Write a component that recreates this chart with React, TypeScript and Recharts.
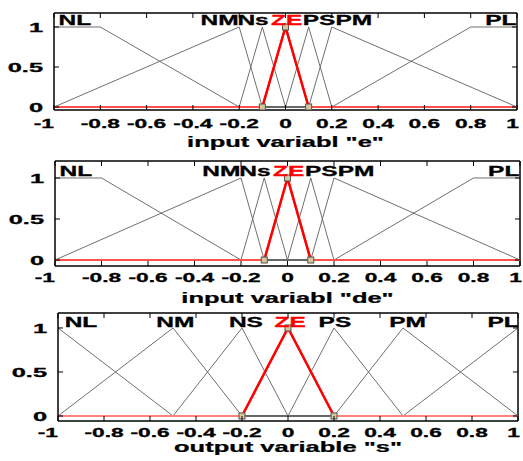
import React from "react";
import { ComposedChart, Line, Scatter, XAxis, YAxis, ReferenceLine } from "recharts";

const xTicks = [-1, -0.8, -0.6, -0.4, -0.2, 0, 0.2, 0.4, 0.6, 0.8, 1];
const yTicks = [0, 0.5, 1];

// "e" and "de" use the same partition
const inNames = ["NL", "NM", "Ns", "ZE", "PS", "PM", "PL"];
const inBreakX = [
  [-1, -0.8, -0.2, 1],
  [-1, -0.2, -0.1, 1],
  [-1, -0.2, -0.1, 0, 1],
  [-1, -0.1, 0, 0.1, 1],
  [-1, 0, 0.1, 0.2, 1],
  [-1, 0.1, 0.2, 1],
  [-1, 0.2, 0.8, 1],
];
const inBreakY = [
  [1, 1, 0, 0],
  [0, 1, 0, 0],
  [0, 0, 1, 0, 0],
  [0, 0, 1, 0, 0],
  [0, 0, 1, 0, 0],
  [0, 0, 1, 0],
  [0, 0, 1, 1],
];
const inLabelX = [-0.91, -0.285, -0.14, 0.005, 0.145, 0.295, 0.93];

const outNames = ["NL", "NM", "NS", "ZE", "PS", "PM", "PL"];
const outBreakX = [
  [-1, -0.5, 1],
  [-1, -0.5, -0.2, 1],
  [-1, -0.5, -0.2, 0, 1],
  [-1, -0.2, 0, 0.2, 1],
  [-1, 0, 0.2, 0.5, 1],
  [-1, 0.2, 0.5, 1],
  [-1, 0.5, 1],
];
const outBreakY = [
  [1, 0, 0],
  [0, 1, 0, 0],
  [0, 0, 1, 0, 0],
  [0, 0, 1, 0, 0],
  [0, 0, 1, 0, 0],
  [0, 0, 1, 0],
  [0, 0, 1],
];
const outLabelX = [-0.9, -0.49, -0.183, 0.009, 0.204, 0.52, 0.935];

const SELECTED = "ZE";
const FONT = "'Liberation Sans', Arial, sans-serif";
const STRETCH = 1.75;

function XTick(props: any) {
  const { x, y, payload, plotH, labelDy } = props;
  const v = payload.value;
  // the end labels sit against the frame corners in the original
  const anchor = v === -1 || v === 1 ? "end" : "middle";
  const tx = v === 1 ? x + 2 : x;
  return (
    <g>
      <line x1={x} y1={y} x2={x} y2={y - 5} stroke="#000" />
      <line x1={x} y1={y - plotH} x2={x} y2={y - plotH + 5} stroke="#000" />
      <g transform={`translate(${tx},${y + labelDy}) scale(${STRETCH},1)`}>
        <text textAnchor={anchor} fontSize={13} fontWeight="bold" fontFamily={FONT} fill="#000" stroke="#000" strokeWidth={0.3}>
          {String(v)}
        </text>
      </g>
    </g>
  );
}

function YTick(props: any) {
  const { x, y, payload, plotW } = props;
  return (
    <g>
      <line x1={x} y1={y} x2={x + 5} y2={y} stroke="#000" />
      <line x1={x + plotW} y1={y} x2={x + plotW - 5} y2={y} stroke="#000" />
      <g transform={`translate(${x - 11},${y}) scale(1.95,1)`}>
        <text textAnchor="end" dy="0.36em" fontSize={13} fontWeight="bold" fontFamily={FONT} fill="#000" stroke="#000" strokeWidth={0.3}>
          {String(payload.value)}
        </text>
      </g>
    </g>
  );
}

function AxisTitle(props: any) {
  const { viewBox, text, dy } = props;
  if (!viewBox) return null;
  const cx = viewBox.x + viewBox.width / 2;
  return (
    <g transform={`translate(${cx},${viewBox.y + dy}) scale(1.82,1)`}>
      <text textAnchor="middle" fontSize={14} fontWeight="bold" fontFamily={FONT} fill="#000" stroke="#000" strokeWidth={0.25}>
        {text}
      </text>
    </g>
  );
}

function MfLabel(props: any) {
  const { cx, cy, payload } = props;
  const c = payload.name === SELECTED ? "#ff0000" : "#000";
  return (
    <g transform={`translate(${cx},${cy}) scale(${STRETCH},1)`}>
      <text textAnchor="middle" fontSize={14} fontWeight="bold" fontFamily={FONT} fill={c} stroke={c} strokeWidth={0.3}>
        {payload.name}
      </text>
    </g>
  );
}

function Square(props: any) {
  const { cx, cy } = props;
  return <rect x={cx - 3} y={cy - 3} width={6} height={6} fill="#d6c79a" stroke="#555" strokeWidth={1} />;
}

interface PanelProps {
  top: number;
  height: number;
  marginTop: number;
  yAxisW: number;
  marginRight: number;
  axisH: number;
  yMin: number;
  yMax: number;
  tickDy: number;
  titleDy: number;
  title: string;
  names: string[];
  bx: number[][];
  by: number[][];
  lx: number[];
  ly: number;
  zeroColor: string;
}

function MfPanel(p: PanelProps) {
  const W = 523;
  const plotW = W - p.yAxisW - p.marginRight;
  const plotH = p.height - p.marginTop - p.axisH;
  const labels = p.names.map((name, i) => ({ name, x: p.lx[i], y: p.ly }));
  const sel = p.names.indexOf(SELECTED);
  const selPts = p.bx[sel].map((x, j) => ({ x, y: p.by[sel][j] }));
  return (
    <div style={{ position: "absolute", left: 0, top: p.top }}>
      <ComposedChart width={W} height={p.height} margin={{ top: p.marginTop, right: p.marginRight, bottom: 0, left: 0 }}>
        <XAxis
          type="number"
          dataKey="x"
          domain={[-1, 1]}
          ticks={xTicks}
          interval={0}
          allowDataOverflow
          height={p.axisH}
          tickSize={0}
          tickMargin={0}
          tickLine={false}
          axisLine={{ stroke: "#000", strokeWidth: 1.5 }}
          tick={<XTick plotH={plotH} labelDy={p.tickDy} />}
          label={<AxisTitle text={p.title} dy={p.titleDy} />}
        />
        <YAxis
          type="number"
          domain={[p.yMin, p.yMax]}
          ticks={yTicks}
          interval={0}
          allowDataOverflow
          width={p.yAxisW}
          tickSize={0}
          tickMargin={0}
          tickLine={false}
          axisLine={{ stroke: "#000", strokeWidth: 1.5 }}
          tick={<YTick plotW={plotW} />}
        />
        <ReferenceLine y={p.yMax} stroke="#000" strokeWidth={1.5} />
        <ReferenceLine x={1} stroke="#000" strokeWidth={1.5} />
        {p.names.map((name, i) =>
          i === sel ? null : (
            <Line
              key={name}
              data={p.bx[i].map((x, j) => ({ x, y: p.by[i][j] }))}
              dataKey="y"
              type="linear"
              stroke="#606060"
              strokeWidth={0.9}
              dot={false}
              activeDot={false}
              isAnimationActive={false}
            />
          )
        )}
        <Line
          data={selPts}
          dataKey="y"
          type="linear"
          stroke={p.zeroColor}
          strokeWidth={2}
          dot={false}
          activeDot={false}
          isAnimationActive={false}
        />
        <Line
          data={selPts.slice(1, selPts.length - 1)}
          dataKey="y"
          type="linear"
          stroke="#ff0000"
          strokeWidth={2.5}
          dot={(d: any) => <Square key={d.index} {...d} />}
          activeDot={false}
          isAnimationActive={false}
        />
        <Scatter data={labels} dataKey="y" shape={(s: any) => <MfLabel {...s} />} isAnimationActive={false} />
      </ComposedChart>
    </div>
  );
}

export default function App() {
  return (
    <div style={{ position: "absolute", left: 0, top: 0, width: 523, height: 461, background: "#fff", overflow: "hidden" }}>
      <MfPanel
        top={0}
        height={160}
        marginTop={13}
        yAxisW={54}
        marginRight={6}
        axisH={50}
        yMin={-0.0375}
        yMax={1.175}
        tickDy={18}
        titleDy={37}
        title={'input variabl "e"'}
        names={inNames}
        bx={inBreakX}
        by={inBreakY}
        lx={inLabelX}
        ly={1.025}
        zeroColor="#ff5050"
      />
      <MfPanel
        top={150}
        height={160}
        marginTop={11}
        yAxisW={55}
        marginRight={3}
        axisH={44}
        yMin={-0.073}
        yMax={1.207}
        tickDy={16}
        titleDy={37}
        title={'input variabl "de"'}
        names={inNames}
        bx={inBreakX}
        by={inBreakY}
        lx={inLabelX}
        ly={1.024}
        zeroColor="#ff5050"
      />
      <MfPanel
        top={300}
        height={161}
        marginTop={13}
        yAxisW={58}
        marginRight={5}
        axisH={40}
        yMin={-0.057}
        yMax={1.17}
        tickDy={16}
        titleDy={31}
        title={'output variable "s"'}
        names={outNames}
        bx={outBreakX}
        by={outBreakY}
        lx={outLabelX}
        ly={1.01}
        zeroColor="#ff8080"
      />
    </div>
  );
}
